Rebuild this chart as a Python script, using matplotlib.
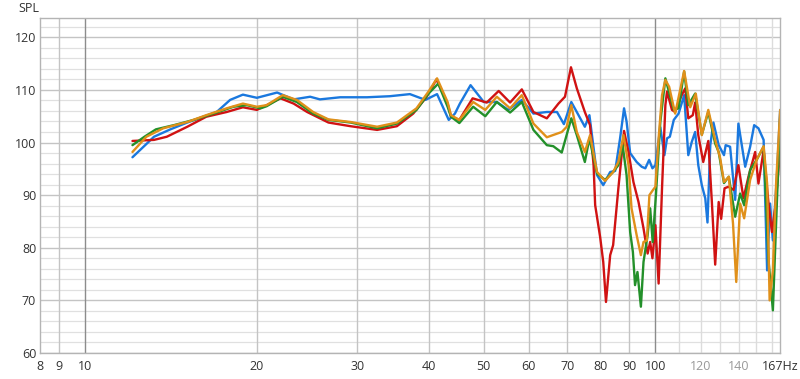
import matplotlib
matplotlib.use("Agg")
import matplotlib.pyplot as plt

plt.rcParams['font.family'] = ['Open Sans', 'DejaVu Sans']

# frequency response readings (Hz, dB SPL)
blue_f = [12.1, 13.2, 14.1, 15.1, 16.1, 17.0, 17.95, 18.9, 20.0, 21.7, 23.2, 24.8, 25.8, 28.0,
          31.2, 34.2, 37.1, 39.5, 41.4, 43.4, 44.5, 45.4, 47.4, 50.0, 52.7, 55.2, 58.3, 61.1,
          64.5, 67.2, 69.1, 71.2, 75.2, 76.6, 79.0, 81.0, 83.3, 85.0, 86.7, 88.1, 89.0, 90.3,
          92.7, 94.6, 96.0, 97.5, 98.8, 100.0, 102.0, 103.7, 104.8, 106.0, 107.7, 109.8, 112.3,
          114.2, 115.8, 117.4, 118.9, 120.6, 122.3, 123.4, 124.8, 126.4, 129.1, 131.9, 132.8,
          135.2, 138.0, 139.8, 143.7, 146.6, 149.0, 151.6, 154.8, 157.0, 158.9, 160.7, 163.3, 165.5]
blue_db = [97.2, 101.1, 102.5, 103.8, 104.9, 105.8, 108.1, 109.1, 108.5, 109.5, 108.2, 108.7, 108.2, 108.6,
           108.6, 108.8, 109.2, 108.1, 109.2, 104.3, 105.5, 107.4, 110.9, 107.7, 107.7, 106.2, 108.1, 105.5,
           105.8, 105.8, 103.5, 107.7, 103.0, 105.2, 93.8, 91.9, 94.4, 94.6, 100.8, 106.5, 104.0, 98.0,
           96.3, 95.4, 95.1, 96.7, 95.1, 95.7, 102.9, 97.6, 100.8, 101.1, 104.3, 105.5, 109.0,
           97.6, 100.1, 102.0, 95.7, 91.9, 89.4, 84.8, 99.5, 103.8, 99.5, 97.6, 99.5,
           99.2, 89.1, 103.6, 95.4, 99.2, 103.3, 102.7, 100.5, 75.7, 88.4, 81.4, 93.5, 106.2]

red_f = [12.1, 13.2, 13.9, 15.1, 16.3, 17.7, 18.9, 20.0, 20.8, 22.0, 23.2, 24.5, 26.7, 29.2,
         32.5, 35.2, 37.6, 39.7, 41.3, 43.2, 43.8, 45.3, 47.8, 50.6, 53.1, 55.6, 58.3, 61.1,
         64.5, 67.6, 69.4, 71.1, 72.8, 75.2, 76.8, 77.9, 78.4, 80.0, 81.0, 81.9, 83.3, 84.3,
         86.1, 88.1, 89.7, 91.5, 93.4, 95.3, 96.9, 97.9, 98.8, 100.0, 101.3, 102.7, 104.1, 104.8,
         106.9, 108.3, 109.7, 111.2, 112.8, 114.2, 116.3, 117.4, 118.9, 121.3, 123.8, 125.6, 127.3,
         129.1, 130.4, 132.2, 134.3, 137.1, 139.8, 142.7, 145.6, 149.6, 151.6, 154.8, 157.9, 160.1,
         162.3, 165.5]
red_db = [100.3, 100.5, 101.1, 103.0, 104.9, 105.8, 106.7, 106.2, 107.1, 108.4, 107.4, 105.8, 103.8, 103.1,
          102.4, 103.1, 105.5, 108.7, 112.0, 107.4, 104.9, 104.3, 108.4, 107.6, 109.8, 107.6, 110.1, 105.8,
          104.6, 107.4, 108.7, 114.3, 110.3, 105.8, 103.3, 95.7, 88.1, 82.0, 77.3, 69.7, 78.6, 80.5,
          91.3, 102.2, 98.2, 92.5, 88.7, 83.7, 78.9, 81.1, 78.0, 84.3, 73.2, 91.3, 107.1, 109.7,
          106.2, 105.8, 107.4, 109.0, 110.3, 104.6, 105.2, 107.6, 101.4, 96.3, 100.3, 88.7, 76.8,
          88.7, 85.5, 91.3, 91.6, 91.0, 95.7, 89.4, 93.5, 98.2, 92.2, 98.5, 88.4, 83.0,
          87.8, 98.5]

green_f = [12.1, 12.7, 13.3, 14.3, 15.5, 17.0, 18.2, 19.2, 20.3, 20.8, 22.2, 23.5, 25.1, 26.7,
           29.2, 32.5, 35.2, 38.1, 40.0, 41.6, 43.2, 43.8, 45.3, 47.9, 50.3, 52.7, 55.6, 58.3,
           61.1, 64.5, 66.2, 68.5, 71.2, 72.8, 75.2, 76.6, 79.0, 81.6, 84.3, 86.1, 87.6, 89.0,
           90.3, 91.3, 92.1, 93.0, 94.3, 95.3, 96.9, 97.9, 98.9, 100.2, 102.0, 104.1, 105.4, 107.7,
           109.8, 112.3, 114.2, 117.4, 120.6, 123.8, 127.3, 129.1, 131.9, 134.5, 138.0, 140.8, 143.1,
           146.6, 150.5, 154.8, 157.9, 160.7, 162.8, 165.5]
green_db = [99.5, 101.1, 102.5, 103.3, 104.3, 105.7, 106.8, 107.1, 106.5, 106.9, 108.7, 107.7, 105.5, 104.3,
            103.8, 102.7, 103.6, 106.2, 109.3, 111.2, 106.8, 104.9, 103.7, 106.8, 105.0, 107.7, 105.7, 107.7,
            102.4, 99.5, 99.3, 98.1, 104.6, 101.4, 96.3, 100.8, 94.1, 92.9, 94.4, 95.7, 99.5, 93.8,
            83.0, 79.2, 72.9, 75.4, 68.8, 77.3, 82.4, 87.5, 81.1, 90.0, 103.9, 112.2, 110.0, 106.2,
            106.5, 113.5, 107.1, 109.3, 101.5, 105.8, 99.8, 98.2, 92.3, 93.5, 85.9, 90.3, 88.1,
            94.8, 96.7, 99.2, 77.6, 68.1, 84.6, 104.9]

orange_f = [12.1, 12.8, 13.7, 15.1, 16.3, 17.7, 18.9, 20.0, 20.8, 22.2, 23.5, 25.1, 26.7, 29.2,
            32.5, 35.2, 38.1, 40.0, 41.4, 43.2, 43.8, 45.3, 47.9, 50.3, 52.7, 55.6, 58.3, 61.1,
            64.5, 68.5, 69.9, 71.2, 72.8, 75.2, 76.8, 79.0, 81.6, 84.3, 86.1, 87.9, 89.7, 90.8,
            92.7, 94.3, 95.3, 96.6, 97.6, 98.9, 100.0, 101.3, 102.7, 104.1, 105.7, 108.3, 112.3,
            115.1, 117.7, 120.6, 123.8, 127.3, 129.9, 131.9, 134.5, 136.8, 138.6, 140.8, 143.1,
            146.6, 150.5, 154.8, 157.0, 158.6, 160.7, 162.8, 165.5]
orange_db = [98.2, 101.1, 102.7, 103.9, 105.2, 106.5, 107.4, 106.8, 107.1, 109.0, 108.1, 105.8, 104.4, 103.9,
             103.0, 103.8, 106.5, 109.7, 112.2, 107.7, 105.2, 104.3, 107.7, 106.2, 108.7, 106.5, 109.0, 103.6,
             101.0, 102.0, 103.0, 107.1, 102.0, 98.2, 101.4, 94.4, 92.7, 94.4, 96.3, 101.4, 95.7, 87.5,
             82.4, 78.6, 81.1, 81.4, 90.0, 90.9, 91.6, 100.8, 109.0, 111.9, 110.6, 105.5, 113.6,
             106.7, 109.3, 101.4, 106.2, 100.5, 97.0, 92.5, 93.5, 84.6, 73.5, 88.4, 85.6,
             92.9, 96.7, 99.3, 92.2, 70.0, 75.7, 92.2, 106.2]

x_min, x_max = 8.34, 165.6
x_ticks = [x_min, 9, 10, 20, 30, 40, 50, 60, 70, 80, 90, 100, 120, 140, x_max]
x_labels = ['8', '9', '10', '20', '30', '40', '50', '60', '70', '80', '90', '100', '120', '140', '167Hz']
y_ticks = [60, 70, 80, 90, 100, 110, 120]

fig = plt.figure(figsize=(8, 3.79), dpi=100)
ax = fig.add_axes([0.0504, 0.0686, 0.925, 0.883])
ax.set_xscale('log')
ax.set_xlim(x_min, x_max)
ax.set_ylim(60, 123.6)

# grid
for y in range(60, 124, 2):
    if y % 10 == 0:
        ax.axhline(y, color='#c4c4c4', lw=1.0, zorder=0)
    else:
        ax.axhline(y, color='#e0e0e0', lw=0.9, zorder=0)
for x in [9, 20, 30, 40, 50, 60, 70, 80, 90]:
    ax.axvline(x, color='#c4c4c4', lw=1.0, zorder=0)
for x in [110, 120, 130, 140, 150, 160]:
    ax.axvline(x, color='#dcdcdc', lw=1.0, zorder=0)
for x in [10, 100]:
    ax.axvline(x, color='#8c8c8c', lw=1.0, zorder=0)

style = dict(lw=1.7, solid_joinstyle='round', solid_capstyle='round')
ax.plot(blue_f, blue_db, color='#1a78de', **style)
ax.plot(red_f, red_db, color='#d01212', **style)
ax.plot(green_f, green_db, color='#23902a', **style)
ax.plot(orange_f, orange_db, color='#e0901a', **style)

ax.set_xticks(x_ticks)
ax.set_xticklabels(x_labels)
ax.xaxis.set_minor_locator(matplotlib.ticker.NullLocator())
ax.set_yticks(y_ticks)
ax.tick_params(axis='both', length=0, labelsize=9, colors='#333333')
ax.tick_params(axis='x', pad=5)
ax.tick_params(axis='y', pad=3)
for lab in ax.get_xticklabels():
    if lab.get_text() in ('120', '140'):
        lab.set_color('#999999')

for s in ax.spines.values():
    s.set_color('#b4b4b4')
    s.set_linewidth(1.0)

fig.text(0.0225, 0.978, 'SPL', fontsize=9, color='#333333', va='center', ha='left')

fig.savefig('out.png', dpi=100)
